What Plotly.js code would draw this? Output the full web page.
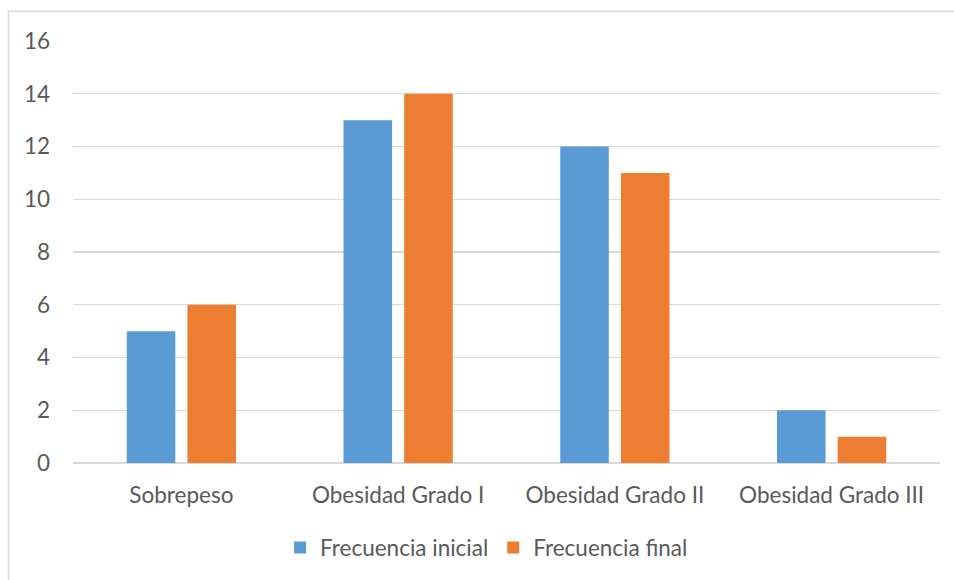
<!DOCTYPE html>
<html>
<head>
<meta charset="utf-8">
<script src="https://cdn.plot.ly/plotly-3.0.1.min.js"></script>
<style>
  html, body { margin: 0; padding: 0; background: #ffffff; }
  #chart { width: 954px; height: 580px; }
</style>
</head>
<body>
<div id="chart"></div>
<script>
// Obesity category counts, before and after
const categories = ['Sobrepeso', 'Obesidad Grado I', 'Obesidad Grado II', 'Obesidad Grado III'];
const frecuenciaInicial = [5, 13, 12, 2];
const frecuenciaFinal = [6, 14, 11, 1];
const yTicks = [0, 2, 4, 6, 8, 10, 12, 14, 16];

const textColor = '#595959';
const gridColor = '#d9d9d9';
const fontFamily = 'Lato, "Open Sans", sans-serif';
const fontSize = 22.5;

const traces = [
  {
    type: 'bar',
    name: 'Frecuencia inicial',
    x: categories,
    y: frecuenciaInicial,
    marker: { color: '#5b9bd5' },
    hoverinfo: 'x+y+name'
  },
  {
    type: 'bar',
    name: 'Frecuencia final',
    x: categories,
    y: frecuenciaFinal,
    marker: { color: '#ed7d31' },
    hoverinfo: 'x+y+name'
  }
];

const layout = {
  width: 954,
  height: 580,
  margin: { l: 73, r: 14, t: 41, b: 116 },
  paper_bgcolor: '#ffffff',
  plot_bgcolor: '#ffffff',
  font: { family: fontFamily, size: fontSize, color: textColor },
  barmode: 'group',
  bargap: 0.44,
  bargroupgap: 0.2,
  showlegend: true,
  legend: {
    orientation: 'h',
    x: 0.477,
    xanchor: 'center',
    y: -0.198,
    yanchor: 'middle',
    font: { family: fontFamily, size: fontSize, color: textColor },
    itemwidth: 30,
    traceorder: 'normal'
  },
  xaxis: {
    type: 'category',
    showgrid: false,
    zeroline: false,
    showline: false,
    ticks: '',
    ticklabelstandoff: 16,
    tickfont: { family: fontFamily, size: fontSize, color: textColor }
  },
  yaxis: {
    range: [0, 16],
    tickvals: yTicks,
    ticktext: yTicks.map(String),
    showgrid: true,
    gridcolor: gridColor,
    gridwidth: 1.3,
    zeroline: true,
    zerolinecolor: gridColor,
    zerolinewidth: 1.3,
    showline: false,
    ticks: '',
    ticklabelstandoff: 22,
    tickfont: { family: fontFamily, size: fontSize, color: textColor }
  },
  shapes: [
    {
      type: 'rect',
      xref: 'paper',
      yref: 'paper',
      x0: -0.0744,
      x1: 1.2,
      y0: -0.4,
      y1: 1.0707,
      line: { color: '#d9d9d9', width: 1.5 },
      fillcolor: 'rgba(0,0,0,0)',
      layer: 'below'
    }
  ]
};

Plotly.newPlot('chart', traces, layout, { displayModeBar: false, staticPlot: true });
</script>
</body>
</html>
